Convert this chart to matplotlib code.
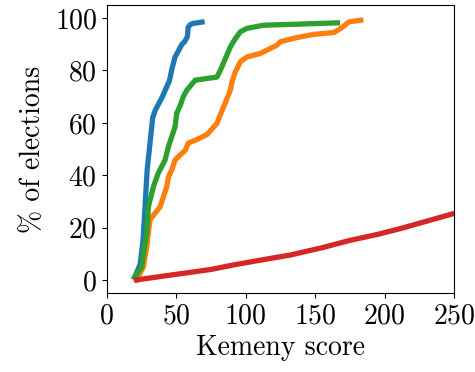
import matplotlib
matplotlib.use("Agg")

import matplotlib.pyplot as plt

# cumulative share of elections (%) vs Kemeny score
bx = [20, 24, 26, 27.5, 29, 31, 33, 35, 37, 40, 42, 45, 47, 49, 52, 54, 56, 58, 58.5, 60, 62, 65, 68.5]
by = [1, 6, 15, 28, 42, 52, 62, 65, 67, 70, 72.5, 76, 81, 85, 88, 90, 91, 93, 96.5, 97.5, 98, 98.2, 98.5]

ox = [21.4, 26.3, 28.7, 29.9, 31, 34.7, 38.3, 40.7, 43.1, 44.3, 46.7, 49.1, 52.7, 56.4, 58.7, 64.7,
      72, 75.6, 79.3, 81.6, 84, 86.5, 88.9, 90.1, 92.5, 96.1, 100.9, 110.5, 115.3, 122.5, 124.9,
      137, 149, 163.4, 168.4, 174.4, 182.8]
oy = [0, 5, 12.6, 17.9, 22.9, 25.5, 27.9, 31.7, 35.6, 39.3, 42, 45.8, 47.7, 49.5, 52.3, 53.6,
      55.5, 57.6, 59.8, 63, 66.1, 69.3, 72.5, 75.7, 79.5, 83.3, 85.2, 86.5, 87.8, 89.7, 91,
      92.6, 93.8, 94.5, 96.1, 98.6, 99.2]

gx = [20.2, 25, 28.7, 29.9, 33.5, 37, 41.9, 44.3, 46.7, 49.1, 50.3, 52.7, 55, 57.6, 63.6, 79.3,
      82.8, 86.4, 88.9, 92.5, 96.1, 100.9, 112.9, 137, 166]
gy = [1.1, 5, 18, 28, 35.6, 40.8, 45.8, 50.9, 54.7, 58.5, 63.7, 66.5, 70, 72.5, 76.3, 77.5,
      81.4, 85.9, 89, 92.2, 94.8, 96.1, 97.3, 97.7, 98.2]

rx = [21.5, 40, 55, 75, 91, 110, 132, 155, 175, 195, 212, 230, 250, 260]
ry = [0, 1.4, 2.5, 4.0, 5.7, 7.5, 9.5, 12.3, 15.1, 17.4, 19.7, 22.4, 25.4, 27]

plt.rcParams["font.family"] = "cmr10"
plt.rcParams["mathtext.fontset"] = "cm"
plt.rcParams["axes.formatter.use_mathtext"] = True

fig = plt.figure(figsize=(4.75, 3.72), dpi=100)
ax = fig.add_axes([0.225, 0.2124, 0.731, 0.774])

lw = 3.8
ax.plot(bx, by, color="tab:blue", lw=lw)
ax.plot(ox, oy, color="tab:orange", lw=lw)
ax.plot(gx, gy, color="tab:green", lw=lw)
ax.plot(rx, ry, color="tab:red", lw=lw)

ax.set_xlim(0, 250)
ax.set_ylim(-5, 105)
ax.set_xticks([0, 50, 100, 150, 200, 250])
ax.set_yticks([0, 20, 40, 60, 80, 100])
ax.tick_params(labelsize=20)
ax.set_xlabel("Kemeny score", fontsize=20)
ax.set_ylabel("% of elections", fontsize=20, labelpad=6)

fig.savefig("out.png", dpi=100)
